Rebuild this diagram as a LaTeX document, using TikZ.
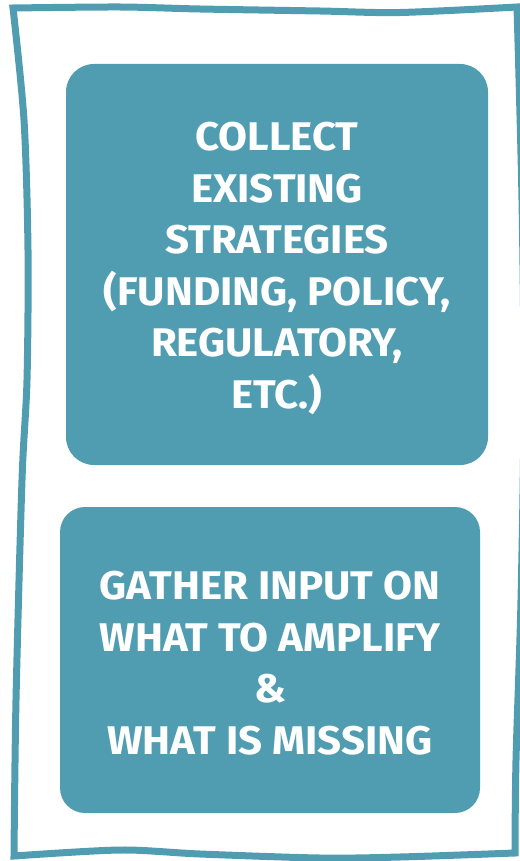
\documentclass[tikz,border=0pt]{standalone}
\usepackage{fontspec}
\setmainfont{Fira Sans}[FakeStretch=1.05]
\definecolor{tealbox}{RGB}{80,157,177}

\tikzset{
  stepbox/.style={fill=tealbox, rounded corners=28pt, inner sep=0pt},
  boxtext/.style={text=white, align=center, inner sep=0pt,
    font=\fontsize{40}{51.5}\selectfont\bfseries},
  framestroke/.style={draw=tealbox, line width=7pt, line join=miter}
}

\begin{document}
\begin{tikzpicture}[x=1pt,y=-1pt]
        \useasboundingbox (0,0) rectangle (519,861);

        % hand-drawn frame
        \draw[framestroke] plot[smooth] coordinates {(14,856) (16,700) (22,480) (27,380) (28,250) (24,120) (13,8)}
          -- plot[smooth] coordinates {(13,8) (120,7) (200,9) (320,11) (400,12.5) (517,7)}
          -- plot[smooth] coordinates {(517,7) (522,200) (524,400) (521,600) (516,760) (515,853)}
          -- plot[smooth] coordinates {(515,853) (400,857) (320,858) (200,854) (120,850) (14,856)} -- cycle;

        \node[stepbox, minimum width=422pt, minimum height=401pt] at (277,264.5) (collect) {};
        \node[stepbox, rounded corners=25pt, minimum width=420pt, minimum height=306pt] at (270,660) (gather) {};

        \node[boxtext] at ([yshift=-4pt]collect.center) (collecttext)
          {COLLECT\\EXISTING\\STRATEGIES\\(FUNDING, POLICY,\\REGULATORY,\\ETC.)};
        \node[boxtext] at ([yshift=-3pt]gather.center) (gathertext)
          {GATHER INPUT ON\\WHAT TO AMPLIFY\\\&\\WHAT IS MISSING};

    \end{tikzpicture}
\end{document}
